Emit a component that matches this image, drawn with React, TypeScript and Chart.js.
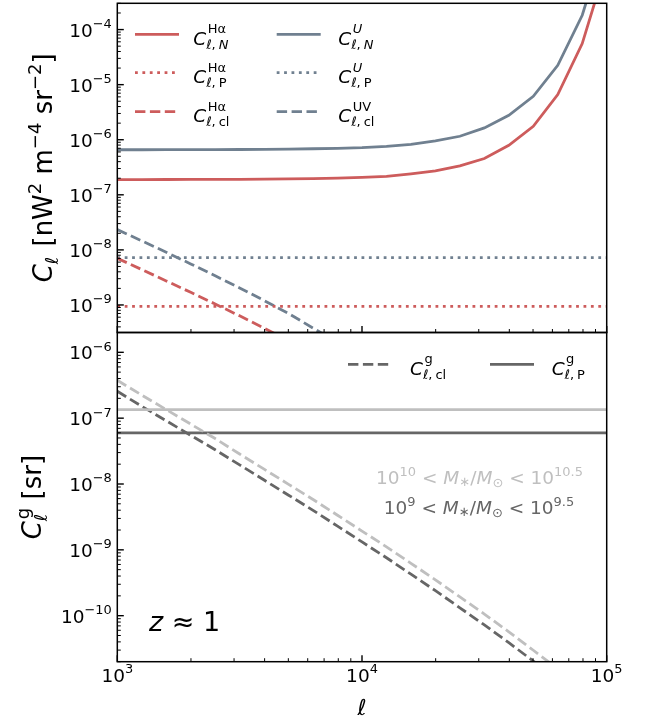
import React, { useEffect, useRef } from 'react';
import { Chart, registerables } from 'chart.js';
Chart.register(...registerables);

// multipole grid
const ELL = [1000, 1259, 1585, 1995, 2512, 3162, 3981, 5012, 6310, 7943, 10000, 12589, 15849, 19953, 25119, 31623, 39811, 50119, 63096, 79433, 100000];

// top panel: intensity power spectra [nW^2 m^-4 sr^-2]
const HA_NOISE = [1.892e-7, 1.892e-7, 1.897e-7, 1.901e-7, 1.905e-7, 1.914e-7, 1.928e-7, 1.945e-7, 1.972e-7, 2.009e-7, 2.065e-7, 2.163e-7, 2.399e-7, 2.71e-7, 3.342e-7, 4.55e-7, 7.943e-7, 1.754e-6, 6.607e-6, 5.572e-5, 1.585e-3];
const U_NOISE = [6.577e-7, 6.577e-7, 6.592e-7, 6.607e-7, 6.622e-7, 6.653e-7, 6.699e-7, 6.761e-7, 6.855e-7, 6.982e-7, 7.178e-7, 7.551e-7, 8.26e-7, 9.506e-7, 1.156e-6, 1.637e-6, 2.78e-6, 6.152e-6, 2.249e-5, 1.82e-4, 5.012e-3];
const HA_POISSON = ELL.map(() => 9.46e-10);
const U_POISSON = ELL.map(() => 7.26e-9);
const HA_CLUSTER = [7.047e-9, 4.395e-9, 2.735e-9, 1.694e-9, 1.042e-9, 6.339e-10, 3.802e-10, 2.239e-10, null, null, null, null, null, null, null, null, null, null, null, null, null];
const UV_CLUSTER = [2.339e-8, 1.459e-8, 9.057e-9, 5.559e-9, 3.388e-9, 2.042e-9, 1.202e-9, 6.998e-10, 3.802e-10, 2.089e-10, null, null, null, null, null, null, null, null, null, null, null];

// bottom panel: galaxy power spectra [sr]
const G_CL_HI = [3.758e-7, 2.239e-7, 1.349e-7, 8.128e-8, 4.898e-8, 2.851e-8, 1.679e-8, 9.886e-9, 5.821e-9, 3.35e-9, 1.928e-9, 1.109e-9, 6.237e-10, 3.508e-10, 1.928e-10, 1.059e-10, 5.689e-11, 2.985e-11, 1.567e-11, null, null];
const G_CL_LO = [2.559e-7, 1.514e-7, 9.12e-8, 5.495e-8, 3.311e-8, 1.95e-8, 1.148e-8, 6.761e-9, 3.981e-9, 2.291e-9, 1.318e-9, 7.586e-10, 4.266e-10, 2.399e-10, 1.318e-10, 7.244e-11, 3.89e-11, 2.042e-11, 1.072e-11, null, null];
const G_P_HI = ELL.map(() => 1.35e-7);
const G_P_LO = ELL.map(() => 5.97e-8);

// axes
const X_MIN = 1e3, X_MAX = 1e5;
const X_TICKS = [1e3, 1e4, 1e5];
const TOP_Y_MIN = 3.1623e-10, TOP_Y_MAX = 3e-4;
const TOP_Y_TICKS = [1e-9, 1e-8, 1e-7, 1e-6, 1e-5, 1e-4];
const BOT_Y_MIN = 2e-11, BOT_Y_MAX = 2e-6;
const BOT_Y_TICKS = [1e-10, 1e-9, 1e-8, 1e-7, 1e-6];

const RED = '#cd5c5c';
const BLUE = '#708090';
const DARK = '#666666';
const LIGHT = '#bfbfbf';
const LW = 2.8;
const DASH = [10.4, 4.5];
const DOT = [2.8, 4.6];

const FAM = '"DejaVu Sans", sans-serif';

type Run = { t: string; s: number; it?: boolean; dy?: number; gap?: number };
type Stack = { sup: Run[]; sub: Run[]; supDx?: number; subDx?: number };
type Piece = Run | Stack;

const fontOf = (r: Run) => `${r.it ? 'italic ' : ''}${r.s}px ${FAM}`;
function runsWidth(ctx: CanvasRenderingContext2D, runs: Run[]) {
  let w = 0;
  for (const r of runs) { ctx.font = fontOf(r); w += ctx.measureText(r.t).width + (r.gap || 0); }
  return w;
}
function pieceWidth(ctx: CanvasRenderingContext2D, p: Piece) {
  if ('sup' in p) return Math.max(runsWidth(ctx, p.sup) + (p.supDx || 0), runsWidth(ctx, p.sub) + (p.subDx || 0));
  return runsWidth(ctx, [p]);
}
function drawRuns(ctx: CanvasRenderingContext2D, runs: Run[], x: number, y: number) {
  let cx = x;
  for (const r of runs) {
    ctx.font = fontOf(r);
    ctx.fillText(r.t, cx, y + (r.dy || 0));
    cx += ctx.measureText(r.t).width + (r.gap || 0);
  }
}
function drawRich(ctx: CanvasRenderingContext2D, pieces: Piece[], x: number, y: number, align: 'left' | 'center' | 'right', color: string) {
  ctx.save();
  ctx.fillStyle = color;
  ctx.textAlign = 'left';
  ctx.textBaseline = 'alphabetic';
  const total = pieces.reduce((s, p) => s + pieceWidth(ctx, p), 0);
  let cx = align === 'left' ? x : align === 'center' ? x - total / 2 : x - total;
  for (const p of pieces) {
    if ('sup' in p) {
      drawRuns(ctx, p.sup, cx + (p.supDx || 0), y);
      drawRuns(ctx, p.sub, cx + (p.subDx || 0), y);
    } else drawRuns(ctx, [p], cx, y);
    cx += pieceWidth(ctx, p);
  }
  ctx.restore();
}

const SUPMAP: Record<string, string> = { '-': '\u2212' };
function powLabel(v: number, size: number): Piece[] {
  const e = Math.round(Math.log10(v));
  const es = String(e).split('').map((ch) => SUPMAP[ch] || ch).join('');
  return [{ t: '10', s: size }, { t: es, s: size * 0.7, dy: -size * 0.46 }];
}

function makeSeries(vals: (number | null)[]) {
  return ELL.map((l, i) => ({ x: l, y: vals[i] }));
}
function ds(label: string, vals: (number | null)[], color: string, dash: number[]) {
  return {
    label,
    data: makeSeries(vals),
    borderColor: color,
    backgroundColor: color,
    borderWidth: LW,
    borderDash: dash,
    borderCapStyle: 'butt' as const,
    pointRadius: 0,
    tension: 0,
    fill: false,
  };
}

function drawFrame(chart: any, opts: { majorLen: number; minorLen: number; xLabels: boolean; yLabels: boolean }) {
  const { ctx, chartArea: a, scales } = chart;
  const xs = scales.x, ys = scales.y;
  ctx.save();
  ctx.strokeStyle = '#000';
  ctx.setLineDash([]);
  // y ticks (inward, left side)
  for (let e = Math.floor(Math.log10(ys.min)); e <= Math.ceil(Math.log10(ys.max)); e++) {
    for (let m = 1; m <= 9; m++) {
      const v = m * Math.pow(10, e);
      if (v < ys.min * 0.9999 || v > ys.max * 1.0001) continue;
      const py = ys.getPixelForValue(v);
      ctx.lineWidth = m === 1 ? 1.4 : 1.0;
      ctx.beginPath();
      ctx.moveTo(a.left, py);
      ctx.lineTo(a.left + (m === 1 ? opts.majorLen : opts.minorLen), py);
      ctx.stroke();
    }
  }
  // x ticks (inward, bottom side)
  for (let e = Math.floor(Math.log10(xs.min)); e <= Math.ceil(Math.log10(xs.max)); e++) {
    for (let m = 1; m <= 9; m++) {
      const v = m * Math.pow(10, e);
      if (v < xs.min * 0.9999 || v > xs.max * 1.0001) continue;
      const px = xs.getPixelForValue(v);
      ctx.lineWidth = m === 1 ? 1.4 : 1.0;
      ctx.beginPath();
      ctx.moveTo(px, a.bottom);
      ctx.lineTo(px, a.bottom - (m === 1 ? opts.majorLen : opts.minorLen));
      ctx.stroke();
    }
  }
  // spines
  ctx.lineWidth = 1.5;
  ctx.strokeRect(a.left, a.top, a.right - a.left, a.bottom - a.top);
  ctx.restore();
  if (opts.yLabels) {
    for (const t of ys.ticks) {
      const py = ys.getPixelForValue(t.value);
      drawRich(ctx, powLabel(t.value, 18.5), a.left - 5.5, py + 7, 'right', '#000');
    }
  }
  if (opts.xLabels) {
    for (const t of xs.ticks) {
      const px = xs.getPixelForValue(t.value);
      drawRich(ctx, powLabel(t.value, 18.5), px, a.bottom + 20, 'center', '#000');
    }
  }
}

function legendLine(ctx: CanvasRenderingContext2D, x0: number, x1: number, y: number, color: string, dash: number[]) {
  ctx.save();
  ctx.strokeStyle = color;
  ctx.lineWidth = LW;
  ctx.lineCap = 'butt';
  ctx.setLineDash(dash);
  ctx.beginPath();
  ctx.moveTo(x0, y);
  ctx.lineTo(x1, y);
  ctx.stroke();
  ctx.restore();
}

function clLabel(sup: Run[], sub: Run[]): Piece[] {
  return [{ t: 'C', s: 18.5, it: true }, { sup, sub, supDx: 1.5, subDx: 0 }];
}
const SUPDY = -11.5, SUBDY = 4;
const ellSub = (last: Run): Run[] => [{ t: 'ℓ', s: 13, it: true, dy: SUBDY }, { t: ',', s: 13, dy: SUBDY, gap: 3 }, { ...last, dy: SUBDY }];

function rotTitle(ctx: CanvasRenderingContext2D, pieces: Piece[], x: number, y: number) {
  ctx.save();
  ctx.translate(x, y);
  ctx.rotate(-Math.PI / 2);
  drawRich(ctx, pieces, 0, 0, 'center', '#000');
  ctx.restore();
}

const logScale = (min: number, max: number, ticks: number[], size: (s: any) => void) => ({
  type: 'logarithmic' as const,
  min,
  max,
  grid: { display: false, drawTicks: false },
  border: { display: false },
  ticks: { display: false },
  afterBuildTicks: (s: any) => { s.ticks = ticks.map((v) => ({ value: v, major: true })); },
  afterFit: size,
});

export default function App() {
  const topRef = useRef<HTMLCanvasElement>(null);
  const botRef = useRef<HTMLCanvasElement>(null);

  useEffect(() => {
    document.body.style.margin = '0';
    const W = 645, H = 720;
    const LEFT = 117.3, RIGHT = 606.7, TOP = 3.3, MID = 332.5, BOTTOM = 661.7;

    const topDecor = {
      id: 'topDecor',
      afterDraw(chart: any) {
        const ctx = chart.ctx as CanvasRenderingContext2D;
        const a = chart.chartArea;
        drawFrame(chart, { majorLen: 6.5, minorLen: 3.5, xLabels: false, yLabels: true });
        // y title
        rotTitle(ctx, [
          { t: 'C', s: 26, it: true },
          { t: 'ℓ', s: 18, it: true, dy: 6, gap: 2 },
          { t: ' [nW', s: 26 },
          { t: '2', s: 18, dy: -11 },
          { t: ' m', s: 26 },
          { t: '\u22124', s: 18, dy: -11 },
          { t: ' sr', s: 26 },
          { t: '\u22122', s: 18, dy: -11 },
          { t: ']', s: 26 },
        ], 51.5, (a.top + a.bottom) / 2);
        // legend
        const rows = [34.3, 72.7, 111.7];
        const lineX = [[135, 179], [276.7, 320.7]];
        const textX = [193.3, 338.3];
        const entries: { col: number; row: number; color: string; dash: number[]; label: Piece[] }[] = [
          { col: 0, row: 0, color: RED, dash: [], label: clLabel([{ t: 'Hα', s: 13, dy: SUPDY }], ellSub({ t: 'N', s: 13, it: true })) },
          { col: 0, row: 1, color: RED, dash: DOT, label: clLabel([{ t: 'Hα', s: 13, dy: SUPDY }], ellSub({ t: 'P', s: 13 })) },
          { col: 0, row: 2, color: RED, dash: DASH, label: clLabel([{ t: 'Hα', s: 13, dy: SUPDY }], ellSub({ t: 'cl', s: 13 })) },
          { col: 1, row: 0, color: BLUE, dash: [], label: clLabel([{ t: 'U', s: 13, it: true, dy: SUPDY }], ellSub({ t: 'N', s: 13, it: true })) },
          { col: 1, row: 1, color: BLUE, dash: DOT, label: clLabel([{ t: 'U', s: 13, it: true, dy: SUPDY }], ellSub({ t: 'P', s: 13 })) },
          { col: 1, row: 2, color: BLUE, dash: DASH, label: clLabel([{ t: 'UV', s: 13, dy: SUPDY }], ellSub({ t: 'cl', s: 13 })) },
        ];
        for (const e of entries) {
          const y = rows[e.row];
          legendLine(ctx, lineX[e.col][0], lineX[e.col][1], y, e.color, e.dash);
          drawRich(ctx, e.label, textX[e.col], y + 10.5, 'left', '#000');
        }
      },
    };

    const botDecor = {
      id: 'botDecor',
      afterDraw(chart: any) {
        const ctx = chart.ctx as CanvasRenderingContext2D;
        const a = chart.chartArea;
        drawFrame(chart, { majorLen: 6.5, minorLen: 3.5, xLabels: true, yLabels: true });
        rotTitle(ctx, [
          { t: 'C', s: 26, it: true },
          { sup: [{ t: 'g', s: 18, dy: -12 }], sub: [{ t: 'ℓ', s: 18, it: true, dy: 6 }], supDx: 2, subDx: 0 },
          { t: ' [sr]', s: 26 },
        ], 41, (a.top + a.bottom) / 2);
        // x title
        drawRich(ctx, [{ t: 'ℓ', s: 22, it: true }], (a.left + a.right) / 2, 715, 'center', '#000');
        // legend
        const ly = 364.3;
        legendLine(ctx, 348, 392, ly, DARK, DASH);
        drawRich(ctx, clLabel([{ t: 'g', s: 13, dy: SUPDY }], ellSub({ t: 'cl', s: 13 })), 410, ly + 10.5, 'left', '#000');
        legendLine(ctx, 490, 534, ly, DARK, []);
        drawRich(ctx, clLabel([{ t: 'g', s: 13, dy: SUPDY }], ellSub({ t: 'P', s: 13 })), 551.7, ly + 10.5, 'left', '#000');
        // mass-bin annotations
        const massLine = (lo: string, hi: string): Piece[] => [
          { t: '10', s: 18.5 },
          { t: lo, s: 13, dy: -8.5 },
          { t: ' < ', s: 18.5 },
          { t: 'M', s: 18.5, it: true },
          { t: '\u2217', s: 13, dy: 2 },
          { t: '/', s: 18.5 },
          { t: 'M', s: 18.5, it: true },
          { t: '\u2299', s: 13, dy: 3 },
          { t: ' < ', s: 18.5 },
          { t: '10', s: 18.5 },
          { t: hi, s: 13, dy: -8.5 },
        ];
        drawRich(ctx, massLine('10', '10.5'), 479.5, 484, 'center', LIGHT);
        drawRich(ctx, massLine('9', '9.5'), 479, 514, 'center', DARK);
        // redshift label
        drawRich(ctx, [{ t: 'z', s: 27, it: true }, { t: ' \u2248 ', s: 27 }, { t: '1', s: 27 }], 149, 631, 'left', '#000');
      },
    };

    const top = new Chart(topRef.current!, {
      type: 'line',
      data: {
        datasets: [
          ds('C_N^Ha', HA_NOISE, RED, []),
          ds('C_P^Ha', HA_POISSON, RED, DOT),
          ds('C_cl^Ha', HA_CLUSTER, RED, DASH),
          ds('C_N^U', U_NOISE, BLUE, []),
          ds('C_P^U', U_POISSON, BLUE, DOT),
          ds('C_cl^UV', UV_CLUSTER, BLUE, DASH),
        ],
      },
      options: {
        animation: false,
        responsive: false,
        devicePixelRatio: 1,
        layout: { padding: { left: 0, right: W - RIGHT, top: TOP, bottom: 0 } },
        plugins: { legend: { display: false }, tooltip: { enabled: false }, title: { display: false } },
        scales: {
          x: logScale(X_MIN, X_MAX, X_TICKS, (s: any) => { s.height = H - MID; s.paddingLeft = 0; s.paddingRight = 0; }),
          y: logScale(TOP_Y_MIN, TOP_Y_MAX, TOP_Y_TICKS, (s: any) => { s.width = LEFT; }),
        },
      } as any,
      plugins: [topDecor],
    });

    const bot = new Chart(botRef.current!, {
      type: 'line',
      data: {
        datasets: [
          ds('C_cl^g hi', G_CL_HI, LIGHT, DASH),
          ds('C_P^g hi', G_P_HI, LIGHT, []),
          ds('C_cl^g lo', G_CL_LO, DARK, DASH),
          ds('C_P^g lo', G_P_LO, DARK, []),
        ],
      },
      options: {
        animation: false,
        responsive: false,
        devicePixelRatio: 1,
        layout: { padding: { left: 0, right: W - RIGHT, top: MID, bottom: 0 } },
        plugins: { legend: { display: false }, tooltip: { enabled: false }, title: { display: false } },
        scales: {
          x: logScale(X_MIN, X_MAX, X_TICKS, (s: any) => { s.height = H - BOTTOM; s.paddingLeft = 0; s.paddingRight = 0; }),
          y: logScale(BOT_Y_MIN, BOT_Y_MAX, BOT_Y_TICKS, (s: any) => { s.width = LEFT; }),
        },
      } as any,
      plugins: [botDecor],
    });

    return () => { top.destroy(); bot.destroy(); };
  }, []);

  return (
    <div style={{ position: 'relative', width: 645, height: 720, background: '#fff', overflow: 'hidden' }}>
      <canvas ref={topRef} width={645} height={720} style={{ position: 'absolute', left: 0, top: 0 }} />
      <canvas ref={botRef} width={645} height={720} style={{ position: 'absolute', left: 0, top: 0 }} />
    </div>
  );
}
